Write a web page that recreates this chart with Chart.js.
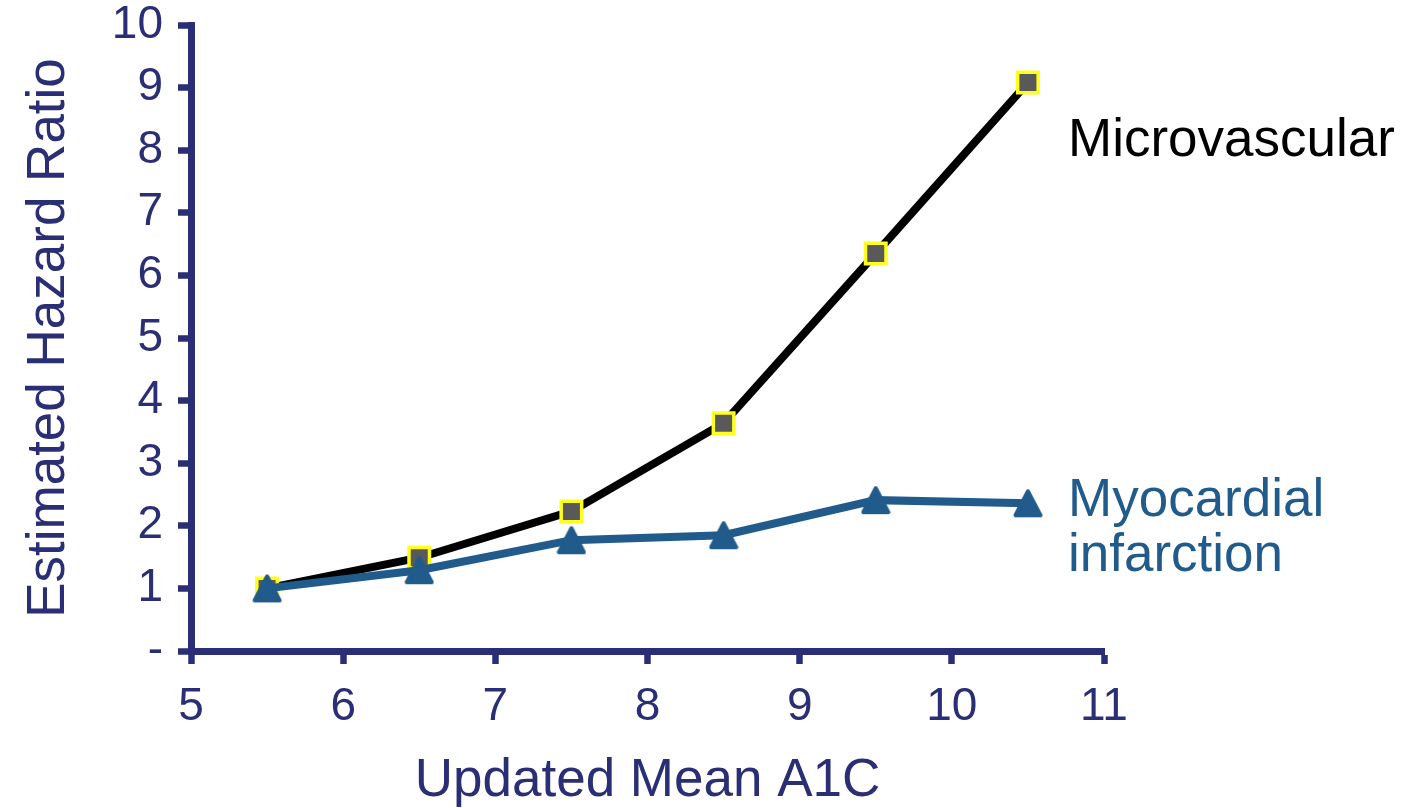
<!DOCTYPE html>
<html>
<head>
<meta charset="utf-8">
<script src="https://cdn.jsdelivr.net/npm/chart.js@4.4.1/dist/chart.umd.min.js"></script>
<style>
html,body{margin:0;padding:0;background:#fff;}
canvas{display:block;}
</style>
</head>
<body>
<canvas id="c" width="1404" height="808"></canvas>
<script>
// ---- data ----
const a1cValues = [5.5, 6.5, 7.5, 8.5, 9.5, 10.5];
const microvascular = [1.0, 1.49, 2.23, 3.64, 6.35, 9.08];
const myocardial = [1.0, 1.29, 1.77, 1.85, 2.41, 2.36];
const xTicks = [5, 6, 7, 8, 9, 10, 11];
const yTicks = ['-', '1', '2', '3', '4', '5', '6', '7', '8', '9', '10'];
const seriesLabels = ['Microvascular', 'Myocardial infarction'];

const NAVY = '#2a2e74';
const BLUE = '#215b8b';
const FONT = '"Liberation Sans", Arial, sans-serif';

// triangle marker
function makeTriangle(color) {
  const cv = document.createElement('canvas');
  cv.width = 30; cv.height = 30;
  const g = cv.getContext('2d');
  g.fillStyle = color; g.strokeStyle = color;
  g.lineJoin = 'round'; g.lineWidth = 4;
  g.beginPath();
  g.moveTo(15, 3);
  g.lineTo(27.5, 27);
  g.lineTo(2.5, 27);
  g.closePath();
  g.fill(); g.stroke();
  return cv;
}
const tri = makeTriangle(BLUE);

const labelPlugin = {
  id: 'seriesText',
  afterDraw(chart) {
    const ctx = chart.ctx;
    ctx.save();
    ctx.font = '53px ' + FONT;
    ctx.textAlign = 'left';
    ctx.textBaseline = 'alphabetic';
    ctx.fillStyle = '#000000';
    ctx.fillText(seriesLabels[0], 1068, 156);
    ctx.fillStyle = BLUE;
    const parts = seriesLabels[1].split(' ');
    ctx.fillText(parts[0], 1068, 516);
    ctx.fillText(parts[1], 1068, 571);
    ctx.restore();
  }
};

new Chart(document.getElementById('c'), {
  type: 'line',
  data: {
    datasets: [
      {
        label: seriesLabels[1],
        data: a1cValues.map((x, i) => ({x: x, y: myocardial[i]})),
        borderColor: BLUE,
        backgroundColor: BLUE,
        borderWidth: 8,
        pointStyle: tri,
        pointRadius: 15,
        tension: 0,
        order: 0
      },
      {
        label: seriesLabels[0],
        data: a1cValues.map((x, i) => ({x: x, y: microvascular[i]})),
        borderColor: '#000000',
        borderWidth: 8,
        pointStyle: 'rect',
        pointRadius: 14.5,
        pointBackgroundColor: '#595959',
        pointBorderColor: '#ffff1e',
        pointBorderWidth: 3.5,
        tension: 0,
        order: 1
      }
    ]
  },
  options: {
    responsive: false,
    animation: false,
    events: [],
    layout: { padding: { left: 0, right: 300, top: 25, bottom: 0 } },
    plugins: { legend: { display: false }, tooltip: { enabled: false } },
    scales: {
      x: {
        type: 'linear',
        min: xTicks[0],
        max: xTicks[xTicks.length - 1],
        afterBuildTicks(s) { s.ticks = xTicks.map(v => ({value: v})); },
        afterFit(s) { s.height = 157; s.paddingLeft = 0; s.paddingRight = 0; },
        border: { display: true, color: NAVY, width: 7 },
        grid: { drawOnChartArea: false, drawTicks: true, tickLength: 13, tickWidth: 6.5, tickColor: NAVY, color: NAVY },
        ticks: { color: NAVY, font: { family: FONT, size: 46 }, padding: 16, maxRotation: 0 },
        title: { display: true, text: 'Updated Mean A1C', color: NAVY, font: { family: FONT, size: 53, lineHeight: 1 }, padding: { top: 0, bottom: 0 } }
      },
      y: {
        type: 'linear',
        min: 0,
        max: 10,
        afterBuildTicks(s) { s.ticks = yTicks.map((t, i) => ({value: i})); },
        afterFit(s) { s.width = 191; s.paddingTop = 0; s.paddingBottom = 0; },
        border: { display: true, color: NAVY, width: 7 },
        grid: { drawOnChartArea: false, drawTicks: true, tickLength: 13, tickWidth: 6.5, tickColor: NAVY, color: NAVY },
        ticks: { color: NAVY, font: { family: FONT, size: 46 }, padding: 15, callback: (v, i) => yTicks[i] },
        title: { display: true, text: 'Estimated Hazard Ratio', color: NAVY, font: { family: FONT, size: 53 }, padding: { top: 18, bottom: 0 } }
      }
    }
  },
  plugins: [labelPlugin]
});
</script>
</body>
</html>
